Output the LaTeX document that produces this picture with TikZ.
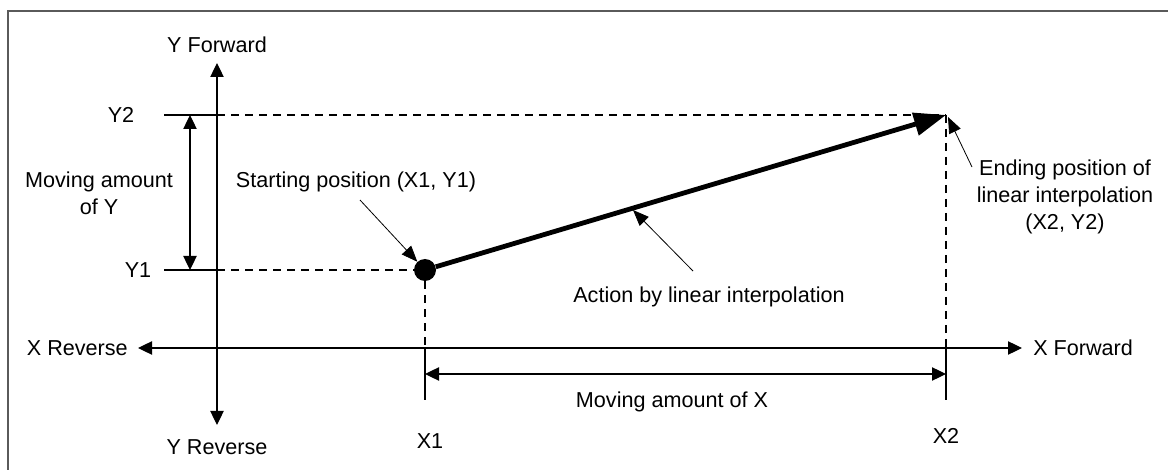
\documentclass[tikz,border=0pt]{standalone}
\usepackage{fontspec}
\setmainfont{Liberation Sans}
\usetikzlibrary{arrows.meta}
\definecolor{diagcolor0001}{RGB}{90,90,90}

\begin{document}
\begin{tikzpicture}[x=0.75pt,y=-0.75pt
,pstyle0/.style={color=diagcolor0001,line width=1.2pt}
,pstyle1/.style={color=black,line width=0.9pt}
,pstyle2/.style={color=black,line width=0.9pt,dash pattern=on 6pt off 4.5pt}
,pstyle4/.style={color=black,line width=0.9pt,{Triangle[length=10.5pt,width=10pt]}-{Triangle[length=10.5pt,width=10pt]}}
,pstyle5/.style={color=black,line width=3.6pt,-{Triangle[length=24pt,width=17pt]}}
,pstyle6/.style={color=black,line width=0.6pt,-{Triangle[length=12pt,width=9.5pt]}}
,ptext/.style={color=black,inner sep=0,font=\fontsize{16.2}{20}\selectfont}
]
\useasboundingbox (0,0) rectangle (1168,470);
% frame
\draw[pstyle0] (8,480) -- (8,11) -- (1180,11);
% axes
\coordinate (ytop) at (217,63);
\coordinate (ybot) at (217,425);
\coordinate (xleft) at (138,348);
\coordinate (xright) at (1022,348);
\draw[pstyle4] (ybot) -- (ytop);
\draw[pstyle4] (xleft) -- (xright);
\node[ptext] (yfwd) at (217,45) {Y Forward};
\node[ptext] (yrev) at (217,447) {Y Reverse};
\node[ptext,anchor=east] (xrev) at (128,348) {X Reverse};
\node[ptext,anchor=west] (xfwd) at (1033,348) {X Forward};
% start and end positions
\coordinate (pend) at (946,115);
\node[circle,fill=black,inner sep=0,minimum size=16.5pt] (pstart) at (425,270) {};
% Y1 / Y2 levels
\coordinate (y2a) at (164,115);
\coordinate (y2b) at (217,115);
\coordinate (y1a) at (164,270);
\coordinate (y1b) at (217,270);
\draw[pstyle1] (y2a) -- (y2b);
\draw[pstyle2] (y2b) -- (pend);
\draw[pstyle1] (y1a) -- (y1b);
\draw[pstyle2] (y1b) -- (pstart.west);
\node[ptext] (ly2) at (121,115) {Y2};
\node[ptext] (ly1) at (138,270) {Y1};
% X1 / X2 levels
\coordinate (x1a) at (425,348);
\coordinate (x1b) at (425,400);
\coordinate (x2a) at (946,348);
\coordinate (x2b) at (946,400);
\draw[pstyle2] (pstart.south) -- (x1a);
\draw[pstyle1] (x1a) -- (x1b);
\draw[pstyle2] (pend) -- (x2a);
\draw[pstyle1] (x2a) -- (x2b);
\node[ptext] (lx1) at (430,441) {X1};
\node[ptext] (lx2) at (946,436) {X2};
% moving amounts
\coordinate (my2) at (190,115);
\coordinate (my1) at (190,270);
\draw[pstyle4] (my1) -- (my2);
\node[ptext,align=center] (lmy) at (99,193) {Moving amount\\of Y};
\coordinate (mx1) at (425,374);
\coordinate (mx2) at (946,374);
\draw[pstyle4] (mx1) -- (mx2);
\node[ptext] (lmx) at (672,402) {Moving amount of X};
% interpolation path
\draw[pstyle5] (pstart) -- (pend);
\node[ptext] (lstart) at (356,182) {Starting position (X1, Y1)};
\coordinate (astart) at (360,200);
\draw[pstyle6] (astart) -- (pstart);
\node[ptext] (laction) at (709,297) {Action by linear interpolation};
\coordinate (aaction) at (693,271);
\coordinate (onpath) at (633,210);
\draw[pstyle6] (aaction) -- (onpath);
\node[ptext,align=center] (lend) at (1065,197) {Ending position of\\linear interpolation\\(X2, Y2)};
\coordinate (aend) at (972,167);
\coordinate (nearend) at (948,117);
\draw[pstyle6] (aend) -- (nearend);
\end{tikzpicture}
\end{document}
